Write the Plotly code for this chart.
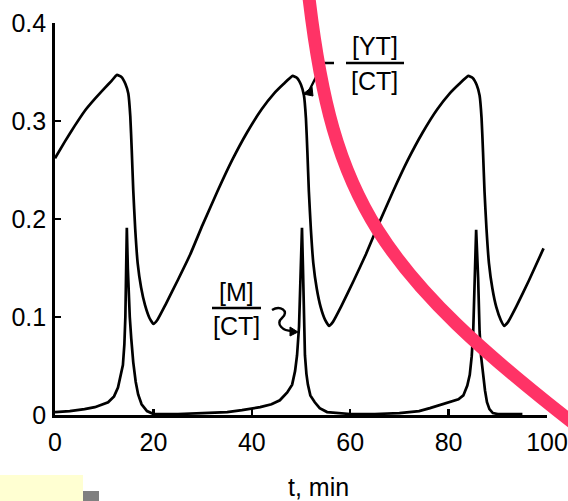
import plotly.graph_objects as go

# ---- data ----
t_yt = [0, 2, 4, 6, 8, 10, 11.5, 12.6, 13.5, 14.3, 14.9, 15.3, 15.6, 15.9, 16.3, 16.8,
        17.5, 18.3, 19.2, 20.0, 20.8, 22.5, 25.0, 27.5, 30.0, 33.0, 36.0, 39.0, 42.0,
        44.5, 46.5, 48.3, 49.2, 50.0, 50.6, 51.0, 51.3, 51.6, 52.0, 52.5, 53.2, 54.0,
        54.9, 55.7, 56.5, 58.2, 60.7, 63.2, 65.7, 68.7, 71.7, 74.7, 77.7, 80.2, 82.2,
        84.0, 84.9, 85.7, 86.3, 86.7, 87.0, 87.3, 87.7, 88.2, 88.9, 89.7, 90.6, 91.3,
        92.1, 93.8, 96.3, 99.3]
yt_ct = [0.262, 0.279, 0.295, 0.310, 0.322, 0.333, 0.341, 0.347, 0.345, 0.338, 0.328,
         0.305, 0.270, 0.230, 0.190, 0.155, 0.130, 0.112, 0.099, 0.093, 0.097, 0.113,
         0.138, 0.164, 0.194, 0.228, 0.260, 0.288, 0.312, 0.328, 0.338, 0.346, 0.344,
         0.337, 0.326, 0.303, 0.268, 0.228, 0.190, 0.155, 0.129, 0.110, 0.097, 0.091,
         0.095, 0.111, 0.137, 0.164, 0.194, 0.228, 0.260, 0.288, 0.312, 0.328, 0.338,
         0.346, 0.344, 0.337, 0.326, 0.303, 0.268, 0.228, 0.190, 0.155, 0.129, 0.110,
         0.097, 0.091, 0.095, 0.111, 0.137, 0.170]

t_m = [0, 3, 6, 8.1, 10.8, 12.0, 12.8, 13.4, 13.8, 14.1, 14.3, 14.45, 14.6, 14.8, 15.0,
       15.2, 15.5, 15.9, 16.4, 16.9, 17.6, 18.7, 20.0, 25.0, 30.0, 35.0, 38.0, 41.7,
       44.0, 45.7, 47.2, 48.2, 48.8, 49.2, 49.6, 49.9, 50.2, 50.4, 50.6, 50.8, 51.1,
       51.4, 51.9, 52.8, 53.8, 55.3, 60.0, 65.0, 70.0, 74.0, 76.2, 79.7, 82.0, 83.0,
       83.8, 84.3, 84.7, 85.0, 85.3, 85.6, 86.0, 86.3, 86.6, 87.0, 87.4, 87.8, 88.3,
       89.0, 90.0, 91.9, 95.0, 100.0]
m_ct = [0.003, 0.004, 0.006, 0.008, 0.013, 0.019, 0.028, 0.040, 0.051, 0.072, 0.100,
        0.145, 0.191, 0.150, 0.120, 0.100, 0.078, 0.054, 0.034, 0.021, 0.011, 0.004,
        0.001, 0.001, 0.002, 0.003, 0.005, 0.008, 0.011, 0.015, 0.023, 0.031, 0.045,
        0.061, 0.090, 0.140, 0.191, 0.150, 0.100, 0.061, 0.042, 0.031, 0.020, 0.013,
        0.007, 0.003, 0.001, 0.001, 0.002, 0.004, 0.007, 0.012, 0.016, 0.020, 0.030,
        0.041, 0.060, 0.085, 0.130, 0.189, 0.140, 0.085, 0.060, 0.041, 0.025, 0.013,
        0.006, 0.002, 0.001, 0.001, 0.001]

x_ticks = [0, 20, 40, 60, 80, 100]
y_ticks = [0, 0.1, 0.2, 0.3, 0.4]
y_tick_text = ["0", "0.1", "0.2", "0.3", "0.4"]

W, H = 568, 501
L, R, T, B = 55, 21, 23, 86


def px(x):
    return (x - L) / (W - L - R)


def py(y):
    return (H - B - y) / (H - B - T)


FONT = "Liberation Sans"

fig = go.Figure()
fig.add_trace(go.Scatter(x=t_yt, y=yt_ct, mode="lines",
                         line=dict(color="black", width=2.7, shape="spline", smoothing=0.4),
                         showlegend=False, hoverinfo="skip"))
fig.add_trace(go.Scatter(x=t_m, y=m_ct, mode="lines",
                         line=dict(color="black", width=2.7),
                         showlegend=False, hoverinfo="skip"))

fig.update_layout(
    width=W, height=H,
    margin=dict(l=L, r=R, t=T, b=B, pad=0, autoexpand=False),
    paper_bgcolor="white", plot_bgcolor="white",
    font=dict(family=FONT, size=25, color="black"),
    xaxis=dict(range=[0, 100], tickvals=x_ticks, ticks="inside", ticklen=6, tickwidth=2.5,
               tickcolor="black", showline=True, linewidth=2.8, linecolor="black",
               showgrid=False, zeroline=False, ticklabelstandoff=3, automargin=False,
               tickfont=dict(family=FONT, size=25)),
    yaxis=dict(range=[0, 0.4], tickvals=y_ticks, ticktext=y_tick_text, ticks="inside",
               ticklen=6, tickwidth=2.5, tickcolor="black", showline=True, linewidth=2.8,
               linecolor="black", showgrid=False, zeroline=False, ticklabelstandoff=1,
               automargin=False, tickfont=dict(family=FONT, size=25)),
)

ann = []


def label(x, y, text, size=25):
    ann.append(dict(x=px(x), y=py(y), xref="paper", yref="paper", text=text,
                    showarrow=False, xanchor="center", yanchor="middle",
                    font=dict(family=FONT, size=size, color="black")))


label(318, 487, "t, min", 25)
label(375, 46, "[YT]", 25)
label(374, 81, "[CT]", 25)
label(236, 292, "[M]", 25)
label(236, 326, "[CT]", 25)
fig.update_layout(annotations=ann)

shapes = []


def line_px(x0, y0, x1, y1, w=2.4, color="black"):
    shapes.append(dict(type="line", xref="paper", yref="paper", x0=px(x0), y0=py(y0),
                       x1=px(x1), y1=py(y1), line=dict(color=color, width=w), layer="above"))


def path_px(cmds, w=2.4, color="black", fill=None):
    out = []
    for c in cmds:
        if isinstance(c, str):
            out.append(c)
        else:
            out.append(f"{px(c[0]):.5f},{py(c[1]):.5f}")
    d = dict(type="path", xref="paper", yref="paper", path=" ".join(out),
             line=dict(color=color, width=w), layer="above")
    if fill:
        d["fillcolor"] = fill
    shapes.append(d)


# fraction bars
line_px(346, 63, 404, 63)
line_px(212, 308, 261, 308)
# leader for [YT]/[CT]
path_px(["M", (334, 63), "L", (323, 63), "L", (309, 91)])
path_px(["M", (303, 94), "L", (312, 87), "L", (313, 96), "Z"], w=1, fill="black")
# squiggle leader for [M]/[CT]
path_px(["M", (272, 310), "C", (280, 305), (290, 311), (282, 318),
         "C", (275, 324), (283, 331), (292, 331)])
path_px(["M", (298, 332), "L", (290, 327), "L", (290, 336), "Z"], w=1, fill="black")

# pink arc overlay
path_px(["M", (309, -2), "C", (333, 200), (378, 272), (582, 430)], w=13, color="#FF3366")

# yellow and gray blocks at bottom-left
shapes.append(dict(type="rect", xref="paper", yref="paper", x0=px(0), x1=px(83),
                   y0=py(475), y1=py(502), fillcolor="#FFFFD2", line=dict(width=0), layer="above"))
shapes.append(dict(type="rect", xref="paper", yref="paper", x0=px(83), x1=px(99),
                   y0=py(491), y1=py(502), fillcolor="#808080", line=dict(width=0), layer="above"))

fig.update_layout(shapes=shapes)
fig.write_html("out.html", config={"displayModeBar": False, "staticPlot": True},
               post_script="document.body.style.margin='0';document.body.style.overflow='hidden';")
